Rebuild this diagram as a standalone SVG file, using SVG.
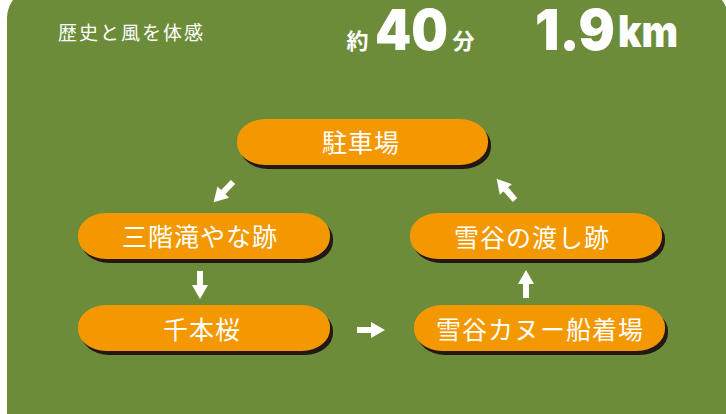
<svg xmlns="http://www.w3.org/2000/svg" width="726" height="414" viewBox="0 0 726 414">
<defs>
<style>
.bg{fill:#6d8c3a}
.pill{fill:#f39800}
.shadow{fill:#231815}
.lbl{font-family:"Noto Sans CJK JP","Noto Sans",sans-serif;font-size:25px;fill:#fff;text-anchor:middle;dominant-baseline:central;letter-spacing:1px}
.hd{font-family:"Noto Sans CJK JP",sans-serif;fill:#fff;dominant-baseline:central}
.num{font-family:Inter,"Liberation Sans",sans-serif;font-weight:900;fill:#fff}
.arr{fill:#fff}
</style>
<g id="arrowShape"><rect x="0" y="-3" width="16" height="6"/><polygon points="14,-8 28,0 14,8"/></g>
</defs>
<rect width="726" height="414" fill="#fff"/>
<rect class="bg" x="7" y="-12" width="721" height="470" rx="30" ry="30"/>
<text class="hd" x="58" y="31" font-size="19" letter-spacing="2">歴史と風を体感</text>
<text class="hd" x="357.5" y="39" font-size="22" font-weight="bold" text-anchor="middle">約</text>
<text class="num" x="375" y="50" font-size="56" textLength="73" lengthAdjust="spacingAndGlyphs">40</text>
<text class="hd" x="463.5" y="39" font-size="22" font-weight="bold" text-anchor="middle">分</text>
<text class="num" x="535" y="50" font-size="56" textLength="80" lengthAdjust="spacingAndGlyphs">1.9</text>
<text class="num" x="618" y="47" font-size="44" textLength="60" lengthAdjust="spacingAndGlyphs">km</text>
<g id="connectors" class="arr">
<use href="#arrowShape" transform="translate(233,182) rotate(134)"/>
<use href="#arrowShape" transform="translate(200,271) rotate(90)"/>
<use href="#arrowShape" transform="translate(357,330)"/>
<use href="#arrowShape" transform="translate(526,298) rotate(-90)"/>
<use href="#arrowShape" transform="translate(515,200) rotate(-131)"/>
</g>
<g id="node-parking">
<rect class="shadow" x="240" y="123" width="251" height="46" rx="28" ry="22"/>
<rect class="pill" x="237" y="119" width="251" height="46" rx="28" ry="22"/>
<text class="lbl" x="361" y="141">駐車場</text>
</g>
<g id="node-sangai">
<rect class="shadow" x="81" y="217" width="252" height="46" rx="28" ry="22"/>
<rect class="pill" x="78" y="213" width="252" height="46" rx="28" ry="22"/>
<text class="lbl" x="200" y="235">三階滝やな跡</text>
</g>
<g id="node-watashi">
<rect class="shadow" x="413" y="217" width="252" height="46" rx="28" ry="22"/>
<rect class="pill" x="410" y="213" width="252" height="46" rx="28" ry="22"/>
<text class="lbl" x="532" y="236">雪谷の渡し跡</text>
</g>
<g id="node-senbonzakura">
<rect class="shadow" x="81" y="309" width="252" height="46" rx="28" ry="22"/>
<rect class="pill" x="78" y="305" width="252" height="46" rx="28" ry="22"/>
<text class="lbl" x="202" y="328">千本桜</text>
</g>
<g id="node-canoe">
<rect class="shadow" x="417" y="309" width="251" height="46" rx="28" ry="22"/>
<rect class="pill" x="414" y="305" width="251" height="46" rx="28" ry="22"/>
<text class="lbl" x="540" y="328">雪谷カヌー船着場</text>
</g>
</svg>
